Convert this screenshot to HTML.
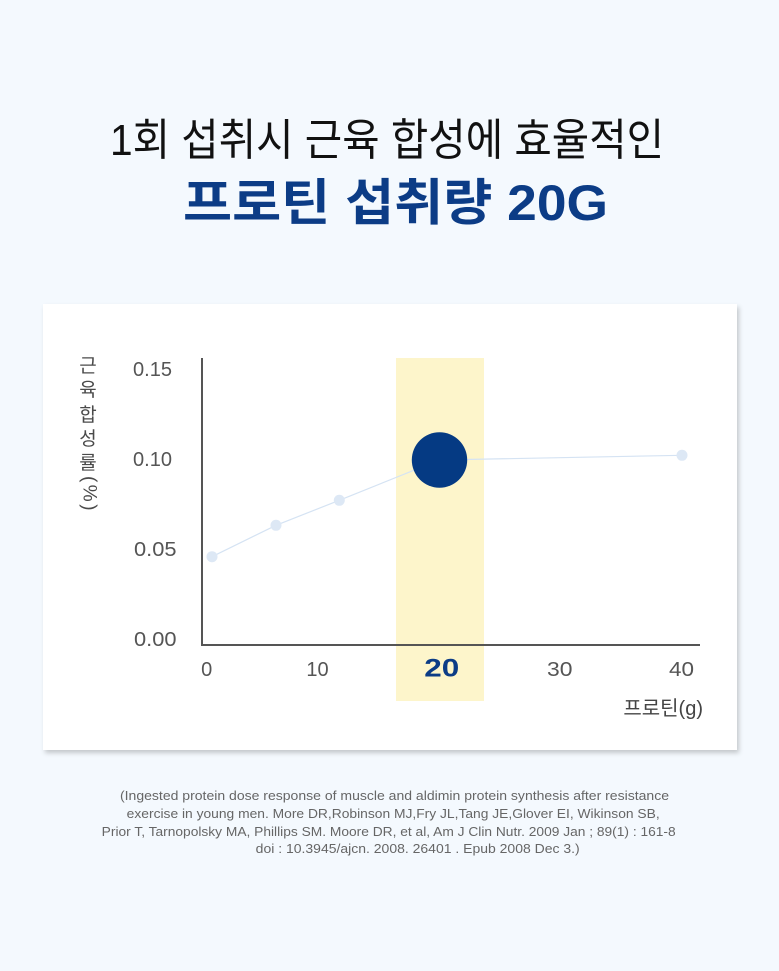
<!DOCTYPE html>
<html>
<head>
<meta charset="utf-8">
<style>
html,body{margin:0;padding:0;background:#f4f9fe;}
svg{display:block;}
text{font-family:"Liberation Sans","Noto Sans CJK KR",sans-serif;}
</style>
</head>
<body>
<svg width="779" height="971" viewBox="0 0 779 971" xmlns="http://www.w3.org/2000/svg">
<defs>
<filter id="sh" x="-5%" y="-5%" width="112%" height="115%">
<feDropShadow dx="2" dy="3" stdDeviation="2.5" flood-color="#000" flood-opacity="0.2"/>
</filter>
</defs>
<rect x="0" y="0" width="779" height="971" fill="#f4f9fe"/>

<!-- Title -->
<text x="110" y="155" font-size="44" fill="#111" textLength="554" lengthAdjust="spacingAndGlyphs">1회 섭취시 근육 합성에 효율적인</text>
<text x="183" y="220" font-size="50" font-weight="700" fill="#0c3c86" textLength="425" lengthAdjust="spacingAndGlyphs">프로틴 섭취량 20G</text>

<!-- Card -->
<rect x="43" y="304" width="694" height="446" fill="#ffffff" filter="url(#sh)"/>

<!-- Highlight -->
<rect x="396" y="358" width="88" height="343" fill="#fdf5cb"/>

<!-- Axes -->
<line x1="202" y1="358" x2="202" y2="646" stroke="#555" stroke-width="2"/>
<line x1="201" y1="645" x2="700" y2="645" stroke="#555" stroke-width="2"/>

<!-- Y tick labels -->
<text x="133" y="376" font-size="20" fill="#555" textLength="39" lengthAdjust="spacingAndGlyphs">0.15</text>
<text x="133" y="466" font-size="20" fill="#555" textLength="39" lengthAdjust="spacingAndGlyphs">0.10</text>
<text x="134" y="556" font-size="20" fill="#555" textLength="42.5" lengthAdjust="spacingAndGlyphs">0.05</text>
<text x="134" y="646" font-size="20" fill="#555" textLength="42.5" lengthAdjust="spacingAndGlyphs">0.00</text>

<!-- X tick labels -->
<text x="206.7" y="676" font-size="20" fill="#555" text-anchor="middle">0</text>
<text x="317.5" y="676" font-size="20" fill="#555" text-anchor="middle">10</text>
<text x="424.3" y="676.5" font-size="25" font-weight="700" fill="#0c3c86" textLength="35" lengthAdjust="spacingAndGlyphs">20</text>
<text x="547" y="676" font-size="20" fill="#555" textLength="25.5" lengthAdjust="spacingAndGlyphs">30</text>
<text x="669" y="676" font-size="20" fill="#555" textLength="25" lengthAdjust="spacingAndGlyphs">40</text>

<!-- X axis title -->
<text x="703" y="715" font-size="20" fill="#444" text-anchor="end">프로틴(g)</text>

<!-- Y axis title (vertical) -->
<g font-size="19" fill="#4a4a4a" text-anchor="middle">
<text x="88" y="372">근</text>
<text x="88" y="396">육</text>
<text x="88" y="421">합</text>
<text x="88" y="445">성</text>
<text x="88" y="469">률</text>
<text x="0" y="0" transform="translate(83.3,494.5) rotate(90)" letter-spacing="2.5">(%)</text>
</g>

<!-- Data line -->
<polyline points="212,556.7 276,525.3 339.3,500.3 439.5,460 682,455.3" fill="none" stroke="#d5e3f3" stroke-width="1.2"/>
<g fill="#dde8f5">
<circle cx="212" cy="556.7" r="5.5"/>
<circle cx="276" cy="525.3" r="5.5"/>
<circle cx="339.3" cy="500.3" r="5.5"/>
<circle cx="682" cy="455.3" r="5.5"/>
</g>
<circle cx="439.5" cy="460" r="27.7" fill="#053a83"/>

<!-- Footnote -->
<g font-size="13" fill="#666">
<text x="120" y="800" textLength="549" lengthAdjust="spacingAndGlyphs">(Ingested protein dose response of muscle and aldimin protein synthesis after resistance</text>
<text x="126.7" y="818" textLength="533" lengthAdjust="spacingAndGlyphs">exercise in young men. More DR,Robinson MJ,Fry JL,Tang JE,Glover EI, Wikinson SB,</text>
<text x="101.7" y="836" textLength="574" lengthAdjust="spacingAndGlyphs">Prior T, Tarnopolsky MA, Phillips SM. Moore DR, et al, Am J Clin Nutr. 2009 Jan ; 89(1) : 161-8</text>
<text x="255.7" y="853" textLength="324" lengthAdjust="spacingAndGlyphs">doi : 10.3945/ajcn. 2008. 26401 . Epub 2008 Dec 3.)</text>
</g>
</svg>
</body>
</html>
